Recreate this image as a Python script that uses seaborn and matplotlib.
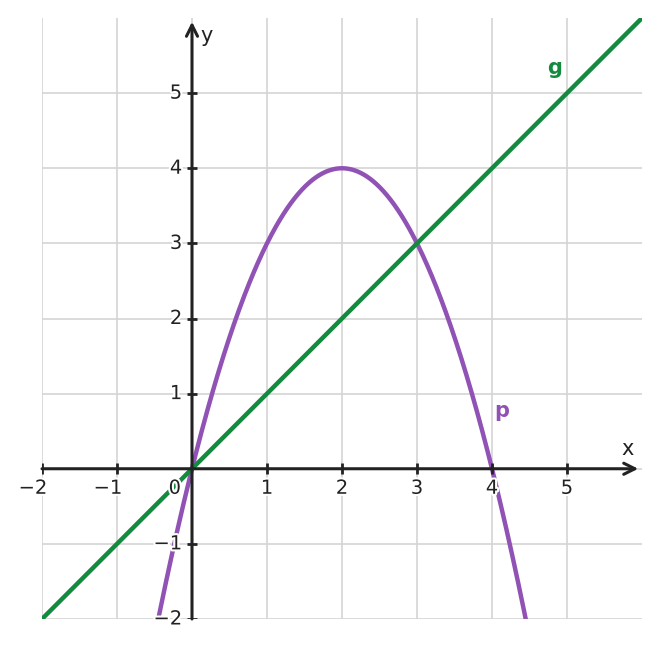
import numpy as np
import pandas as pd
import matplotlib
matplotlib.use("Agg")
import matplotlib.pyplot as plt
import matplotlib.patheffects as pe
import seaborn as sns

# Data
p_coeffs = [-1, 4, 0]      # p(x) = -x^2 + 4x
g_coeffs = [1, 0]          # g(x) = x
x_ticks = [-2, -1, 0, 1, 2, 3, 4, 5]
y_ticks = [-2, -1, 1, 2, 3, 4, 5]
x_range = [-2, 6]
y_range = [-2, 6]

sns.set_theme(style="white")
plt.rcParams['font.family'] = ['DejaVu Sans']

fig = plt.figure(figsize=(6.61, 6.48), dpi=100)
ax = fig.add_axes([42/661, (648-619)/648, 600/661, 601/648])

xs = np.linspace(x_range[0], x_range[1], 801)
df = pd.concat([
    pd.DataFrame({"x": xs, "y": np.polyval(p_coeffs, xs), "f": "p"}),
    pd.DataFrame({"x": xs, "y": np.polyval(g_coeffs, xs), "f": "g"}),
])
purple = "#9152b5"
green = "#138a3e"
sns.lineplot(data=df, x="x", y="y", hue="f", palette={"p": purple, "g": green},
             linewidth=3.2, legend=False, ax=ax, zorder=3, sort=False)

ax.set_xlim(*x_range)
ax.set_ylim(*y_range)

# grid
gc = "#d4d4d4"
for xv in range(x_range[0], x_range[1]):
    ax.axvline(xv, color=gc, lw=1.2, zorder=0)
for yv in range(y_range[0], y_range[1]):
    ax.axhline(yv, color=gc, lw=1.2, zorder=0)

for s in ax.spines.values():
    s.set_visible(False)
ax.set_xticks([])
ax.set_yticks([])
ax.set_xlabel("")
ax.set_ylabel("")

dark = "#222222"
# axes with arrows
ax.annotate("", xy=(5.95, 0), xytext=(-2, 0),
            arrowprops=dict(arrowstyle="->", color=dark, lw=2.2, mutation_scale=20,
                            shrinkA=0, shrinkB=0), zorder=4, annotation_clip=False)
ax.annotate("", xy=(0, 5.95), xytext=(0, -2),
            arrowprops=dict(arrowstyle="->", color=dark, lw=2.2, mutation_scale=20,
                            shrinkA=0, shrinkB=0), zorder=4, annotation_clip=False)

# tick marks
tl = 0.07
for xv in x_ticks:
    if xv != 0:
        ax.plot([xv, xv], [-tl, tl], color=dark, lw=2, zorder=4, solid_capstyle="butt")
for yv in y_ticks:
    ax.plot([-tl, tl], [yv, yv], color=dark, lw=2, zorder=4, solid_capstyle="butt")

# tick labels with white halo
halo = [pe.withStroke(linewidth=3, foreground="white")]
for xv in x_ticks:
    lbl = "\u2212" + str(-xv) if xv < 0 else str(xv)
    if xv == 0:
        xpos = -0.23
    elif xv < 0:
        xpos = xv - 0.12
    else:
        xpos = xv
    ax.text(xpos, -0.26, lbl, ha="center", va="center", fontsize=14, color=dark,
            path_effects=halo, zorder=5, clip_on=False)
for yv in y_ticks:
    lbl = "\u2212" + str(-yv) if yv < 0 else str(yv)
    ax.text(-0.13, yv, lbl, ha="right", va="center", fontsize=14, color=dark,
            path_effects=halo, zorder=5, clip_on=False)

ax.text(5.81, 0.26, "x", ha="center", va="center", fontsize=15, color=dark, zorder=5)
ax.text(0.19, 5.76, "y", ha="center", va="center", fontsize=15, color=dark, zorder=5)
ax.text(4.83, 5.33, "g", ha="center", va="center", fontsize=15, color=green,
        fontweight="bold", zorder=5)
ax.text(4.13, 0.77, "p", ha="center", va="center", fontsize=15, color=purple,
        fontweight="bold", zorder=5)

fig.savefig("out.png", dpi=100, facecolor="white")
